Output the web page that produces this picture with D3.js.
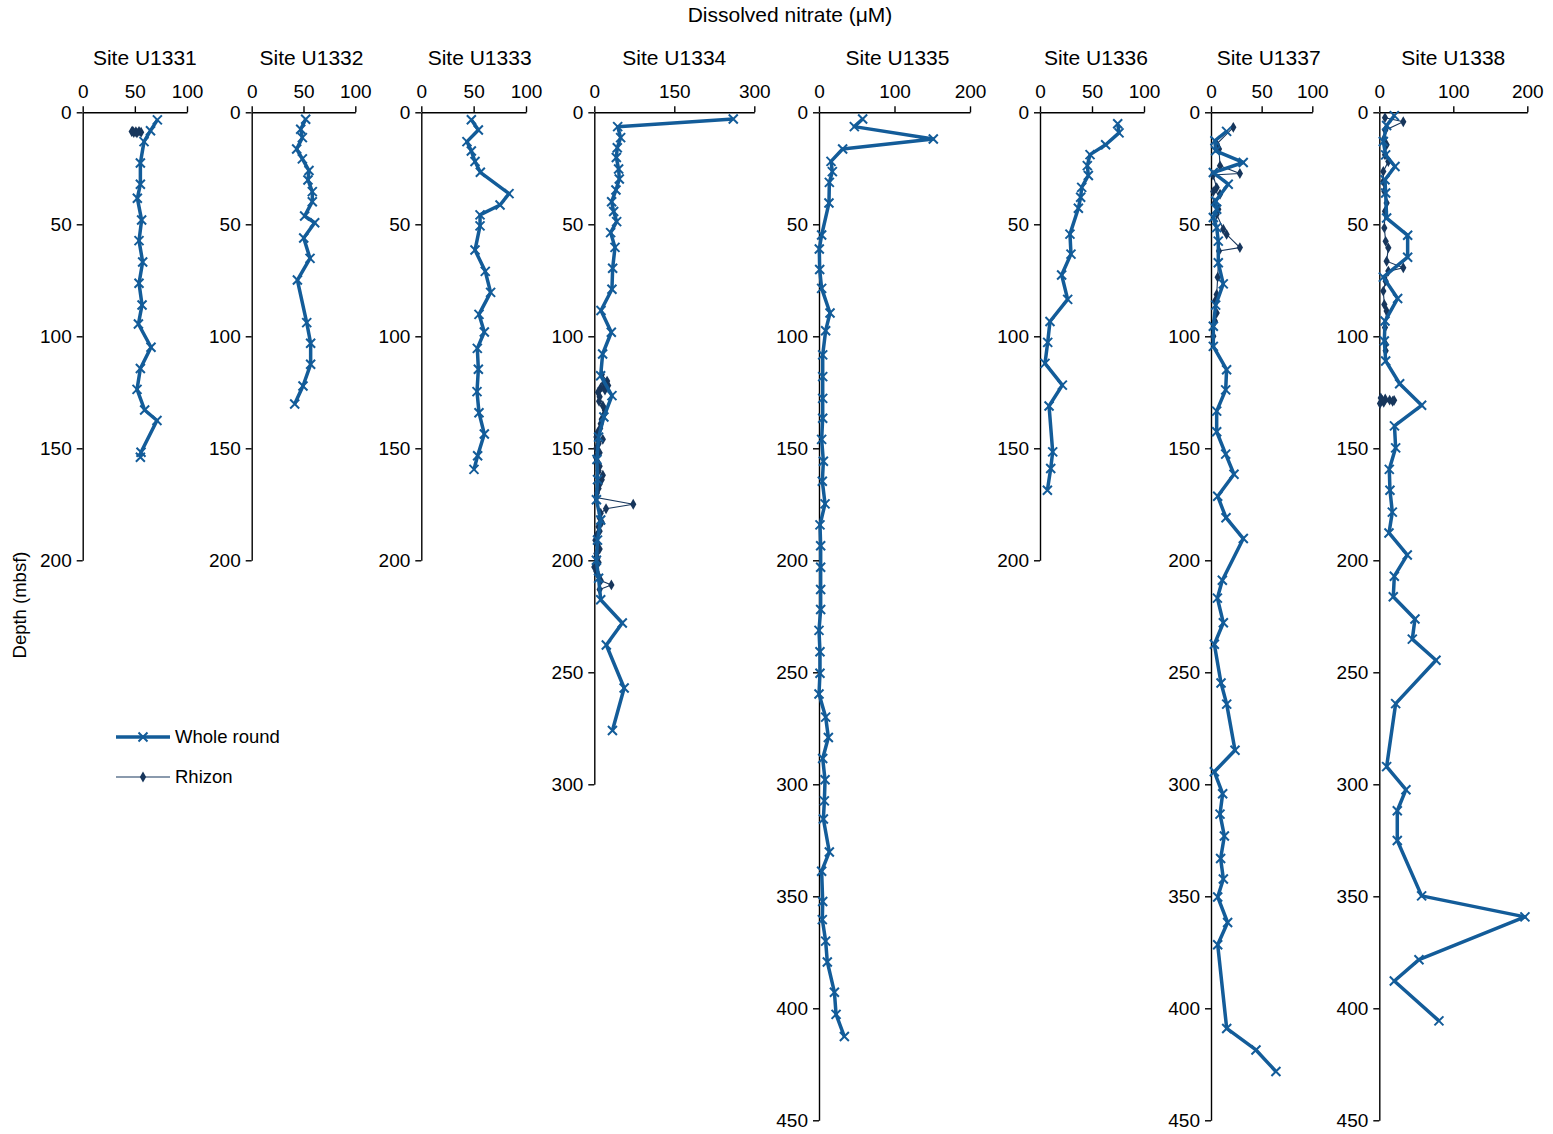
<!DOCTYPE html>
<html>
<head>
<meta charset="utf-8">
<script src="https://cdn.jsdelivr.net/npm/d3@7"></script>
<style>
  body { margin: 0; background: #fff; }
  text { font-family: "Liberation Sans", Arial, sans-serif; fill: #000; }
  .axis path, .axis line { stroke: #000; stroke-width: 1.4; }
  .axis text { font-size: 19px; font-family: "Liberation Sans", Arial, sans-serif; }
</style>
</head>
<body>
<div id="container"></div>
<script>
const WIDTH = 1553;
const HEIGHT = 1134;
const TOP = 112.3;
const PX_PER_M = 2.24;
const WHOLE_COLOR = '#135c99';
const RHIZON_COLOR = '#17365c';

// Data: [depth (mbsf), nitrate (µM)]; null = gap in the line
const u1331Whole = [[3.4,71.6],[8.2,65],[13.1,58.8],[22.6,55.3],[32.1,55.3],[38.4,52.4],[48.1,56.5],[57.3,54],[66.8,57.5],[76.3,54],[86,56.9],[94.5,53.4],[104.9,65.5],[114.4,55.3],[123.7,52.1],[132.9,59.4],[137.6,71.2],[151.8,55.9],[154,55.3]];
const u1331Rhizon = [[8.4,48],[8.7,51],[8.5,54],[8.9,56],[9.2,52],[9.0,49],[8.6,47]];
const u1332Whole = [[3.1,52.1],[7.6,47.3],[11.3,48.9],[16.4,43.4],[20.8,48.9],[26,55.3],[30.2,54.3],[35.4,58.5],[39.9,58.5],[46.3,51.1],[49.3,60.8],[56.1,50.2],[65.2,56.3],[74.9,44.1],[93.9,53.1],[103.1,56.9],[112.5,56.9],[122.2,49.5],[130.2,41.5]];
const u1333Whole = [[3.3,47.8],[7.9,54.5],[13.1,43.6],[17.3,47.8],[22,51.3],[26.8,56.4],[36.3,83.8],[41.4,75.2],[45.8,56.1],[50.7,56.1],[61.5,51.3],[71,61.1],[80.4,66.2],[90.2,55.1],[98.1,60.2],[105.4,53.5],[114.7,54.5],[124.7,53.2],[134.1,55.1],[143.6,60.2],[153.3,53.8],[159.4,50.3]];
const u1334Whole = [[3,260.6],[6.4,43.8],[11.3,49.4],[15.8,43.1],[20.2,41.3],[25.3,45.6],[29.8,46.9],[34.7,40.6],[39.9,32.5],[44.3,36.3],[48.8,41.9],[53.7,30.6],[60.3,38.8],[69.6,34.4],[79,33.1],[88.5,12.5],[98.2,31.9],[107.9,15.6],[117.6,11.9],[126.5,33.1],[136,18],[145,8],[155,5],[164,6],[173,4],[182,12],[191,6],[200,4],[208,8],[217.6,12],[228,52.5],[237.8,22.5],[257,56],[276,34]];
const u1334Rhizon = [[117,14],[120,24],[121,18],[122,26],[123,12],[124,20],[125,7],[127,10],[129,9],[131,16],[133,20],[135,18],[137,14],[139,12],[141,11],[143,6],[145,4],[146,16],[148,8],[150,4],[152,10],[154,3],[156,6],[158,10],[160,8],[162,16],[164,14],[166,10],[168,8],[170,5],[172,4],[175,73],[177,22],[179,12],[181,10],[183,14],[185,8],[187,10],[189,4],[191,2],[193,6],[195,10],[197,4],[199,6],[201,8],[203,0],[205,4],[207,8],[209,12],[211,32],[213,10]];
const u1335Whole = [[3,57.8],[6.4,46.8],[11.9,151.4],[16.4,31.3],[21.9,15.9],[26.5,17.7],[31.3,13.7],[40.5,13.2],[54.8,3.5],[61,0.4],[70.2,0.9],[78.6,3.5],[89.6,14.6],[97.5,8.8],[108.3,4.9],[118,4.9],[127.7,4.9],[136.6,4.9],[146,3.5],[155.8,5.8],[164.7,4.4],[174.8,8],[184.2,1.3],[193.5,2.2],[203.1,2.2],[213,2.2],[222,2.2],[231.3,0],[240.8,1.3],[250.4,1.3],[259.7,0],[270,8.8],[279.1,12.4],[288.5,4.9],[298,8],[307.4,7.1],[315.5,5.8],[330.2,13.7],[338.8,3.5],[352.3,4.9],[360.4,4.4],[370,8.8],[379.3,11],[392.8,20.4],[402.7,22.6],[412.6,33.6]];
const u1336Whole = [[5.1,74.7],[9.2,76],[14.5,63.1],[18.9,48.1],[23.8,45.5],[28.2,46.5],[33.5,40.1],[37.9,39.1],[42.8,36.9],[54.4,28.8],[63.3,29.8],[72.6,20.8],[83.5,26.6],[93.4,9.6],[102.7,7.4],[112.1,4.8],[121.8,21.5],[131.1,8.7],[151.6,12.2],[159,10.3],[168.7,7.1]];
const u1337Whole = [[8.5,15.4],[12.7,3.9],[17.2,4.6],[22.4,31.8],[26.9,2.3],[32.1,17],[39.6,4.6],[43.3,5.6],[47,2.3],[51.5,5.6],[57.5,7.2],[67.2,7.2],[76.6,12.1],[86.1,4.6],[95.5,2.3],[104.5,2.3],[114.9,15.4],[123.9,14.5],[133.4,5.6],[142.6,5.6],[152.6,14.5],[161.6,22.7],[171.4,6.6],[181,14.8],[190.3,31.9],[208.9,11.2],[216.9,6.3],[227.9,12.2],[237.5,3.3],[254.8,9.9],[264.2,15.5],[284.8,23.7],[294.4,3.3],[304.2,11.5],[313.3,8.9],[323.1,13.2],[333.1,9.5],[342.3,12.2],[350.3,6.6],[361.7,16.4],[371.6,6.6],[409,15.5],[418.6,44.4],[428.2,64.1]];
const u1337Rhizon = [[6.7,22],[14.2,5.6],[16.4,7.9],[23.9,8.9],[27.3,28.5],[28,2],[33.6,5.6],[35.4,2.3],[36.6,8.9],[40.3,3.9],[43.3,7.2],[45.5,5.6],[52.2,12.1],[54.5,15.4],[60.4,28.5],[61.9,7.9],[73.6,6.6],[81.3,5.6],[84.3,3.9],[89.6,5.6],[93.3,3.9],[100,2.3]];
const u1338Whole = [[1.5,20.3],[5.9,9.9],[13,5.4],[19,8.6],[24.2,21.2],[30.1,7.7],[36,8.6],[47.2,9.9],[54.9,38.3],[64.7,38.3],[73.6,5.4],[83.1,24.8],[93.2,7.7],[102.1,6.8],[111,8.6],[121.2,27.5],[130.8,57.2],[140,20.5],[149.8,22.1],[159.4,13.5],[168.7,14.4],[178.5,17.6],[187.8,13.1],[197.6,37.8],[207.1,20.3],[216.3,18.9],[226.2,48.2],[235.2,44.6],[244.6,76.6],[264,22.1],[292.1,9.9],[302.4,36],[311.8,24.3],[325.1,24.3],[349.8,57.2],[359.2,196.8],[378.3,53.6],[387.8,20.3],[405.6,80.6]];
const u1338Rhizon = [[2.4,7.7],[4.2,32.4],[8,8],[11.6,6.8],[14.5,9.9],[19,7.7],[22,12.2],[26.4,5.4],[30.9,5.4],[35.3,6.8],[40.5,9.9],[44.2,7.7],[51.6,6.8],[57.6,8.6],[60.5,12.2],[66.5,9.9],[69.4,32.4],[70.9,12.2],[75.4,8.6],[79.8,5.4],[85.8,6.8],[88.7,9.9],[96.1,7.7],[103.6,8.6],[106.5,8.6],null,[127.5,2],[128,8],[128.5,14],[129,18],[128.6,20],[129.5,6],[130,1],[128.5,4]];

const siteNames = ['Site U1331', 'Site U1332', 'Site U1333', 'Site U1334', 'Site U1335', 'Site U1336', 'Site U1337', 'Site U1338'];
const xMaxes = [100, 100, 100, 300, 200, 100, 100, 200];
const depthMaxes = [200, 200, 200, 300, 450, 200, 450, 450];
const legendLabels = ['Whole round', 'Rhizon'];

// Panel layout (pixels)
const panelLeft = [82.7, 251.7, 421.3, 594.3, 819, 1040, 1211, 1379.3];
const panelRight = [187, 355.3, 526, 754.3, 970, 1144, 1312.3, 1527.3];
const labelShift = [10, 8, 6, 0, 3, 4, 7, 0];

const wholeData = [u1331Whole, u1332Whole, u1333Whole, u1334Whole, u1335Whole, u1336Whole, u1337Whole, u1338Whole];
const rhizonData = [u1331Rhizon, [], [], u1334Rhizon, [], [], u1337Rhizon, u1338Rhizon];

const svg = d3.select('#container').append('svg')
    .attr('width', WIDTH)
    .attr('height', HEIGHT);

const crossPath = (s) => 'M' + (-s) + ',' + (-s) + 'L' + s + ',' + s + 'M' + (-s) + ',' + s + 'L' + s + ',' + (-s);
const diamond = d3.symbol().type(d3.symbolDiamond).size(34);

siteNames.forEach(function (name, i) {
    const x = d3.scaleLinear().domain([0, xMaxes[i]]).range([panelLeft[i], panelRight[i]]);
    const y = d3.scaleLinear().domain([0, depthMaxes[i]]).range([TOP, TOP + depthMaxes[i] * PX_PER_M]);
    const g = svg.append('g');

    g.append('g')
        .attr('class', 'axis')
        .attr('transform', 'translate(0,' + TOP + ')')
        .call(d3.axisTop(x).tickValues([0, xMaxes[i] / 2, xMaxes[i]]).tickSizeOuter(0).tickPadding(8));
    g.append('g')
        .attr('class', 'axis')
        .attr('transform', 'translate(' + panelLeft[i] + ',0)')
        .call(d3.axisLeft(y).tickValues(d3.range(0, depthMaxes[i] + 1, 50)).tickSizeOuter(0).tickPadding(5));

    g.append('text')
        .attr('x', (panelLeft[i] + panelRight[i]) / 2 + labelShift[i])
        .attr('y', 65)
        .attr('text-anchor', 'middle')
        .style('font-size', '21px')
        .text(name);

    const line = d3.line()
        .defined(d => d !== null)
        .x(d => x(d[1]))
        .y(d => y(d[0]));

    // Rhizon (thin)
    const rhizonPoints = rhizonData[i].filter(d => d !== null);
    if (rhizonPoints.length) {
        g.append('path')
            .datum(rhizonData[i])
            .attr('d', line)
            .attr('fill', 'none')
            .attr('stroke', RHIZON_COLOR)
            .attr('stroke-width', 1.1);
        g.selectAll('.rh')
            .data(rhizonPoints)
            .enter().append('path')
            .attr('transform', d => 'translate(' + x(d[1]) + ',' + y(d[0]) + ')')
            .attr('d', diamond)
            .attr('fill', RHIZON_COLOR);
    }

    // Whole round (thick)
    g.append('path')
        .datum(wholeData[i])
        .attr('d', line)
        .attr('fill', 'none')
        .attr('stroke', WHOLE_COLOR)
        .attr('stroke-width', 3.5)
        .attr('stroke-linejoin', 'round');
    g.selectAll('.wr')
        .data(wholeData[i])
        .enter().append('path')
        .attr('transform', d => 'translate(' + x(d[1]) + ',' + y(d[0]) + ')')
        .attr('d', crossPath(4.5))
        .attr('stroke', WHOLE_COLOR)
        .attr('stroke-width', 2)
        .attr('fill', 'none');
});

// Titles
svg.append('text')
    .attr('x', 790)
    .attr('y', 22)
    .attr('text-anchor', 'middle')
    .style('font-size', '21px')
    .text('Dissolved nitrate (μM)');
svg.append('text')
    .attr('transform', 'translate(26,605) rotate(-90)')
    .attr('text-anchor', 'middle')
    .style('font-size', '18.5px')
    .text('Depth (mbsf)');

// Legend
const legend = svg.append('g');
legend.append('line')
    .attr('x1', 116).attr('x2', 170).attr('y1', 737).attr('y2', 737)
    .attr('stroke', WHOLE_COLOR).attr('stroke-width', 3.5);
legend.append('path')
    .attr('transform', 'translate(143,737)')
    .attr('d', crossPath(4.5))
    .attr('stroke', WHOLE_COLOR).attr('stroke-width', 2);
legend.append('line')
    .attr('x1', 116).attr('x2', 170).attr('y1', 777).attr('y2', 777)
    .attr('stroke', RHIZON_COLOR).attr('stroke-width', 1.1);
legend.append('path')
    .attr('transform', 'translate(143,777)')
    .attr('d', diamond)
    .attr('fill', RHIZON_COLOR);
legend.selectAll('.lt')
    .data(legendLabels)
    .enter().append('text')
    .attr('x', 175)
    .attr('y', (d, i) => 743 + i * 40)
    .style('font-size', '18.5px')
    .text(d => d);
</script>
</body>
</html>
